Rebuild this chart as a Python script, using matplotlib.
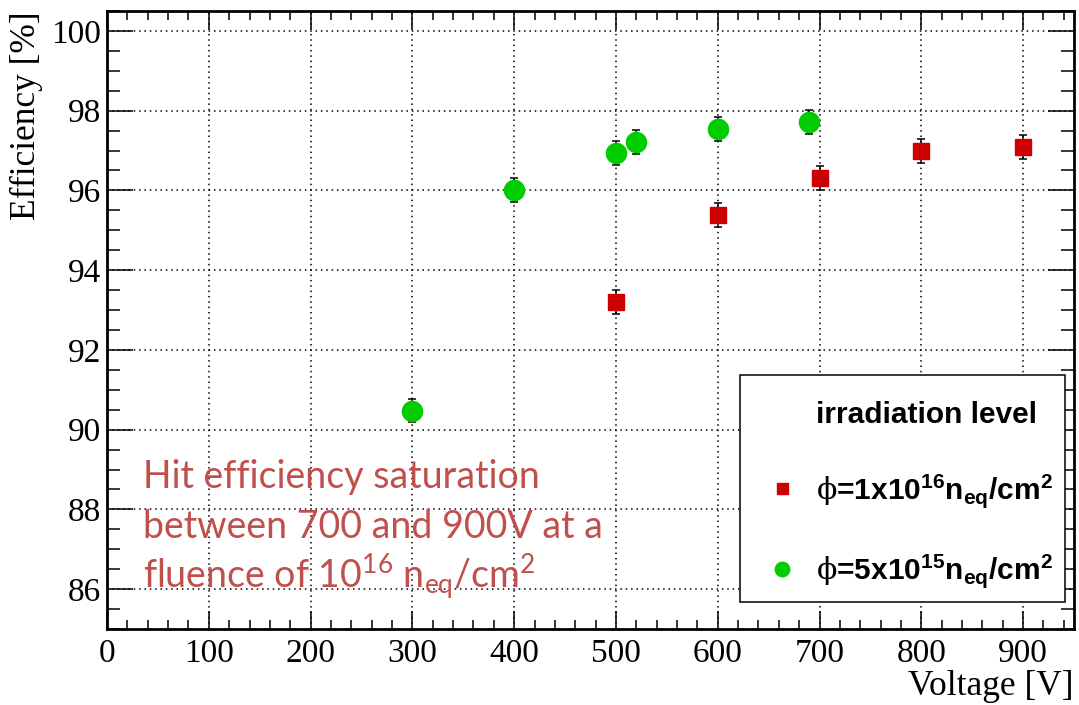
import matplotlib
matplotlib.use("Agg")
import matplotlib.pyplot as plt
from matplotlib.patches import Rectangle
from matplotlib.ticker import MultipleLocator

plt.rcParams['mathtext.default'] = 'regular'
plt.rcParams['mathtext.fontset'] = 'custom'
plt.rcParams['mathtext.rm'] = 'DejaVu Serif'

# hit efficiency vs bias voltage, two irradiation levels
volt_1e16 = [500, 600, 700, 800, 900]
eff_1e16 = [93.2, 95.38, 96.3, 96.98, 97.08]
err_1e16 = [0.3, 0.3, 0.3, 0.3, 0.3]

volt_5e15 = [300, 400, 500, 520, 600, 690]
eff_5e15 = [90.48, 96.02, 96.95, 97.22, 97.55, 97.72]
err_5e15 = [0.3, 0.3, 0.3, 0.3, 0.3, 0.3]

label_1e16 = r'$\mathrm{ϕ}$=1x10$^{16}$n$_{eq}$/cm$^{2}$'
label_5e15 = r'$\mathrm{ϕ}$=5x10$^{15}$n$_{eq}$/cm$^{2}$'

red = '#cc0000'
green = '#00cc00'
note_color = '#c0504d'

fig = plt.figure(figsize=(10.79, 7.05), dpi=100)
ax = fig.add_axes([107 / 1079, 1 - 629 / 705, 967 / 1079, 618 / 705])

ax.set_xlim(0, 950)
ax.set_ylim(85, 100.5)

# error bars first, markers on top
for x, y, e in [(volt_1e16, eff_1e16, err_1e16), (volt_5e15, eff_5e15, err_5e15)]:
    ax.errorbar(x, y, yerr=e, fmt='none', ecolor='black', elinewidth=1.1,
                capsize=3, capthick=1.1, zorder=3)

h_red, = ax.plot(volt_1e16, eff_1e16, ls='none', marker='s', ms=11,
                 color=red, mec=red, zorder=4)
h_green, = ax.plot(volt_5e15, eff_5e15, ls='none', marker='o', ms=14.5,
                   color=green, mec=green, zorder=4)

# ROOT-like frame and ticks
ax.xaxis.set_major_locator(MultipleLocator(100))
ax.xaxis.set_minor_locator(MultipleLocator(20))
ax.yaxis.set_major_locator(MultipleLocator(2))
ax.yaxis.set_minor_locator(MultipleLocator(0.5))
ax.tick_params(which='both', direction='in', top=True, right=True, width=1.1)
ax.tick_params(axis='x', which='major', length=13, pad=7)
ax.tick_params(axis='x', which='minor', length=6.5)
ax.tick_params(axis='y', which='major', length=19, pad=4)
ax.tick_params(axis='y', which='minor', length=9.5)
for sp in ax.spines.values():
    sp.set_linewidth(2)

ax.grid(True, which='major', color='black', linewidth=1.1,
        linestyle=(0, (1, 2.5)))
ax.set_axisbelow(True)

for lab in ax.get_xticklabels() + ax.get_yticklabels():
    lab.set_fontfamily('Liberation Serif')
    lab.set_fontsize(24)

ax.set_ylabel('Efficiency [%]', family='Liberation Serif', fontsize=25.5,
              loc='top')
ax.yaxis.set_label_coords(-0.066, 1.0)
ax.set_xlabel('Voltage [V]', family='Liberation Serif', fontsize=25.5,
              loc='right')
ax.xaxis.set_label_coords(1.0, -0.066)

# legend box drawn separately, entries placed inside it
ax.add_patch(Rectangle((0.6546, 0.0437), 0.3361, 0.3673, transform=ax.transAxes,
                       facecolor='white', edgecolor='black', linewidth=1.1,
                       zorder=5))
title_handle, = ax.plot([], [], ls='none', marker='none')
leg = ax.legend([title_handle, h_red, h_green],
                ['irradiation level', label_1e16, label_5e15],
                loc='upper left', bbox_to_anchor=(0.6546, 0.4045),
                prop={'family': 'Liberation Sans', 'weight': 'bold', 'size': 21.5},
                frameon=False, borderpad=0.75, handlelength=1.3,
                handletextpad=0.5, labelspacing=1.42, borderaxespad=0,
                markerscale=0.72)
leg.set_zorder(6)

# annotation
note_lines = ['Hit efficiency saturation',
              'between 700 and 900V at a',
              r'fluence of 10$^{16}$ n$_{eq}$/cm$^{2}$']
for i, line in enumerate(note_lines):
    ax.text(0.0372, 0.2282 - i * 0.081, line, transform=ax.transAxes,
            family='Lato', fontsize=27, color=note_color, va='baseline',
            ha='left', zorder=6)

fig.savefig('out.png', dpi=100)
